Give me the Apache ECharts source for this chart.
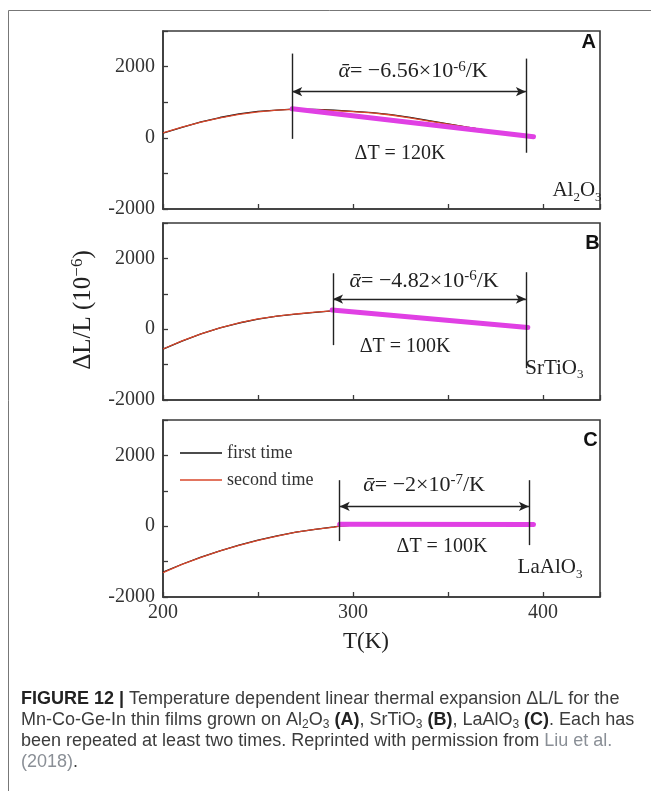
<!DOCTYPE html>
<html><head><meta charset="utf-8">
<script src="https://cdn.jsdelivr.net/npm/echarts@6/dist/echarts.min.js"></script>
<style>html,body{margin:0;padding:0;background:#fff;}#c{width:651px;height:791px;}</style>
</head><body><div id="c"></div>
<script>
// ---- data (T in K, ΔL/L in 1e-6) ----
const tempA   = [200,210,220,230,240,250,260,268,280,290,300,310,320,330,340,350,360,370,380,390,395];
const firstA  = [130,295,445,570,670,740,780,805,800,775,745,705,650,575,480,390,300,215,130,55,30];
const secondA = [140,300,440,560,660,730,775,800,790,765,735,700,640,560,470,385,300,215,135,60,30];
const fitTA = [268,395];
const fitVA = [815,30];

const tempB   = [200,210,220,230,240,250,260,270,280,289,300,310,320,330,340,350,360,370,380,392];
const firstB  = [-565,-335,-135,35,175,285,368,428,478,518,498,448,398,348,298,248,198,148,98,38];
const secondB = [-560,-330,-130,40,180,290,370,430,480,520,500,450,400,350,300,250,200,150,100,40];
const fitTB = [289,392];
const fitVB = [545,50];

const tempC   = [200,210,220,230,240,250,260,270,280,290,293,300,310,320,330,340,350,360,370,380,390,395];
const firstC  = [-1300,-1075,-875,-695,-535,-395,-275,-168,-88,-22,2,32,58,85,72,62,57,55,52,50,50,50];
const secondC = [-1310,-1080,-880,-700,-540,-400,-280,-170,-90,-25,0,30,55,80,70,60,55,55,50,50,50,50];
const fitTC = [293,395];
const fitVC = [55,50];

const xTicks = [200,300,400];
const yTicks = [-2000,0,2000];
const seriesNames = ['first time','second time'];
const panelLetters = ['A','B','C'];
const substrates = [['Al','2','O','3'],['SrTi','','O','3'],['LaAl','','O','3']];
const alphaTexts = [['−6.56×10','-6'],['−4.82×10','-6'],['−2×10','-7']];
const deltaT = ['ΔT = 120K','ΔT = 100K','ΔT = 100K'];

// ---- annotation anchors (data coords) ----
const spans = [
  {l:268, r:391, lt:2366, lb:-30, rt:2225, rb:-420, ay:1296},
  {l:289.5, r:391, lt:1580, lb:-450, rt:1610, rb:-1100, ay:850},
  {l:293, r:392.6, lt:1300, lb:-420, rt:1300, rb:-535, ay:560}
];
const textAnchors = [
  {alpha:[331.6,1860], dt:[324.7,-450], sub:[417.9,-1490], letter:[424,2675]},
  {alpha:[337.4,1356], dt:[327.4,-508], sub:[406,-1100], letter:[426,2430]},
  {alpha:[337.4,1155], dt:[346.8,-590], sub:[403.7,-1180], letter:[425,2420]}
];

const SERIF = 'Liberation Serif, Times New Roman, serif';
const SANS = 'Liberation Sans, Arial, sans-serif';
const AX = '#3a3a3a';

const chart = echarts.init(document.getElementById('c'), null, {renderer:'canvas'});

const gridsPos = [{top:31,height:178},{top:223,height:177},{top:420,height:177}];
const grids = gridsPos.map(g => ({left:163, width:437, top:g.top, height:g.height,
  show:true, borderColor:AX, borderWidth:1.6, backgroundColor:'transparent'}));

const xAxes = [0,1,2].map(i => ({
  type:'value', gridIndex:i, min:200, max:430, interval:50,
  axisLine:{show:true, onZero:false, lineStyle:{color:AX, width:1.6}},
  axisTick:{show:true, inside:true, length:5, lineStyle:{color:AX, width:1.3}},
  splitLine:{show:false},
  axisLabel:{show:i===2, margin:6, color:'#333', fontFamily:SERIF, fontSize:20,
    formatter:v => xTicks.includes(v) ? String(v) : ''}
}));
const yAxes = [0,1,2].map(i => ({
  type:'value', gridIndex:i, min:-2000, max:3000, interval:1000,
  axisLine:{show:true, onZero:false, lineStyle:{color:AX, width:1.6}},
  axisTick:{show:true, inside:true, length:5, lineStyle:{color:AX, width:1.3}},
  splitLine:{show:false},
  axisLabel:{margin:8, color:'#333', fontFamily:SERIF, fontSize:20,
    formatter:v => yTicks.includes(v) ? String(v) : ''}
}));

const temps = [tempA,tempB,tempC];
const firsts = [firstA,firstB,firstC];
const seconds = [secondA,secondB,secondC];
const fitTs = [fitTA,fitTB,fitTC];
const fitVs = [fitVA,fitVB,fitVC];

const series = [];
for (let i=0;i<3;i++){
  series.push({name:seriesNames[0], type:'line', xAxisIndex:i, yAxisIndex:i, symbol:'none',
    data: temps[i].map((t,k)=>[t, firsts[i][k]]), lineStyle:{color:'#111', width:1.3}, itemStyle:{color:'#111'}, z:2});
  series.push({name:seriesNames[1], type:'line', xAxisIndex:i, yAxisIndex:i, symbol:'none',
    data: temps[i].map((t,k)=>[t, seconds[i][k]]), lineStyle:{color:'#d9472b', width:1.3}, itemStyle:{color:'#d9472b'}, z:3});
  const s = spans[i];
  series.push({name:'fit', type:'line', xAxisIndex:i, yAxisIndex:i, symbol:'none',
    data: fitTs[i].map((t,k)=>[t, fitVs[i][k]]), lineStyle:{color:'#e040e4', width:5, cap:'round'}, z:4,
    markLine:{silent:true, animation:false, symbol:['none','none'], symbolSize:[7,10],
      lineStyle:{color:'#222', width:1.4, type:'solid'}, label:{show:false}, emphasis:{disabled:true},
      data:[
        [{coord:[s.l,s.lt]},{coord:[s.l,s.lb]}],
        [{coord:[s.r,s.rt]},{coord:[s.r,s.rb]}],
        [{coord:[s.l,s.ay], symbol:'arrow'},{coord:[s.r,s.ay], symbol:'arrow'}]
      ]}
  });
}

chart.setOption({
  animation:false,
  backgroundColor:'#fff',
  grid:grids, xAxis:xAxes, yAxis:yAxes, series:series,
  legend:{data:seriesNames, orient:'vertical', left:175, top:439, itemWidth:42, itemHeight:14, itemGap:9,
    icon:'path://M0,6.5 L42,6.5 L42,7.8 L0,7.8 Z',
    textStyle:{fontFamily:SERIF, fontSize:18, color:'#333'}, selectedMode:false}
});

const g = [];
// outer frame (left + top)
g.push({type:'line', shape:{x1:8.5,y1:10.5,x2:651,y2:10.5}, style:{stroke:'#777', lineWidth:1}});
g.push({type:'line', shape:{x1:8.5,y1:10.5,x2:8.5,y2:791}, style:{stroke:'#777', lineWidth:1}});

for (let i=0;i<3;i++){
  const a = textAnchors[i];
  const pa = chart.convertToPixel({gridIndex:i}, a.alpha);
  g.push({type:'text', x:pa[0], y:pa[1], style:{
    text:'{al|ᾱ}{t|= '+alphaTexts[i][0]+'}{s|'+alphaTexts[i][1]+'}{t|/K}',
    align:'center', verticalAlign:'middle', fill:'#222',
    rich:{al:{fontFamily:SERIF, fontSize:22, fontStyle:'italic', fill:'#222', lineHeight:25},
          t:{fontFamily:SERIF, fontSize:22, fill:'#222', lineHeight:25},
          s:{fontFamily:SERIF, fontSize:15, fill:'#222', lineHeight:15, verticalAlign:'top'}}}});
  const pd = chart.convertToPixel({gridIndex:i}, a.dt);
  g.push({type:'text', x:pd[0], y:pd[1], style:{text:deltaT[i], align:'center', verticalAlign:'middle',
    fontFamily:SERIF, fontSize:20, fill:'#222'}});
  const ps = chart.convertToPixel({gridIndex:i}, a.sub);
  const sb = substrates[i];
  g.push({type:'text', x:ps[0], y:ps[1], style:{
    text:'{m|'+sb[0]+'}'+(sb[1]?'{b|'+sb[1]+'}':'')+'{m|'+sb[2]+'}{b|'+sb[3]+'}',
    align:'center', verticalAlign:'middle', fill:'#222',
    rich:{m:{fontFamily:SERIF, fontSize:21, fill:'#222', lineHeight:26},
          b:{fontFamily:SERIF, fontSize:13, fill:'#222', lineHeight:13, verticalAlign:'bottom'}}}});
  const pl = chart.convertToPixel({gridIndex:i}, a.letter);
  g.push({type:'text', x:pl[0], y:pl[1], style:{text:panelLetters[i], align:'center', verticalAlign:'middle',
    fontFamily:SANS, fontWeight:'bold', fontSize:20, fill:'#111'}});
}

// axis titles
g.push({type:'text', x:83, y:310, rotation:Math.PI/2, style:{
  text:'{t|ΔL/L (10}{s|−6}{t|)}', align:'center', verticalAlign:'middle',
  rich:{t:{fontFamily:SERIF, fontSize:25, fill:'#222', lineHeight:28},
        s:{fontFamily:SERIF, fontSize:17, fill:'#222', lineHeight:17, verticalAlign:'top'}}}});
g.push({type:'text', x:366, y:642, style:{text:'T(K)', align:'center', verticalAlign:'middle',
  fontFamily:SERIF, fontSize:23, fill:'#222'}});

// caption
const capRich = {
  n:{fontFamily:SANS, fontSize:18, fill:'#3c3c3c', lineHeight:21},
  b:{fontFamily:SANS, fontSize:18, fill:'#222', fontWeight:'bold', lineHeight:21},
  sub:{fontFamily:SANS, fontSize:12, fill:'#3c3c3c', lineHeight:12, verticalAlign:'bottom'},
  l:{fontFamily:SANS, fontSize:18, fill:'#8a8f96', lineHeight:21}
};
const capLines = [
  '{b|FIGURE 12 |}{n| Temperature dependent linear thermal expansion ΔL/L for the}',
  '{n|Mn-Co-Ge-In thin films grown on Al}{sub|2}{n|O}{sub|3}{n| }{b|(A)}{n|, SrTiO}{sub|3}{n| }{b|(B)}{n|, LaAlO}{sub|3}{n| }{b|(C)}{n|. Each has}',
  '{n|been repeated at least two times. Reprinted with permission from }{l|Liu et al.}',
  '{l|(2018)}{n|.}'
];
const capY = [699,720,741,762];
capLines.forEach((t,k)=>g.push({type:'text', x:21, y:capY[k], style:{text:t, align:'left', verticalAlign:'middle', rich:capRich}}));

chart.setOption({graphic:g});
</script></body></html>
